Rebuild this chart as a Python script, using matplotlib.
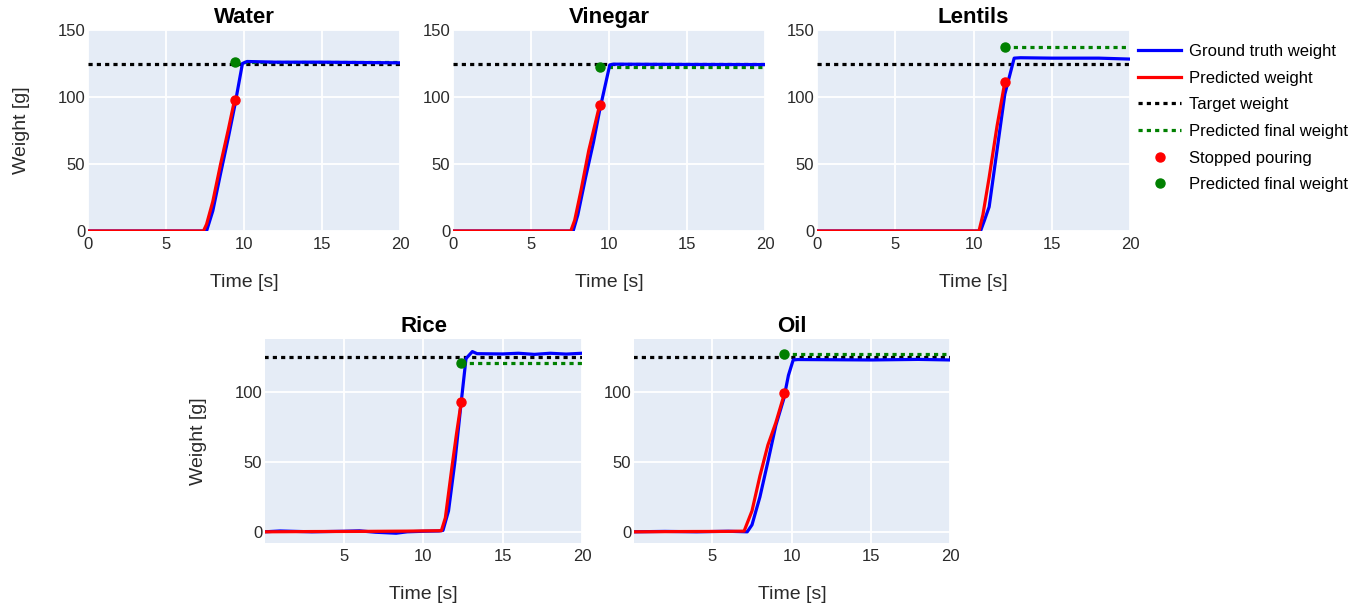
import matplotlib
matplotlib.use("Agg")
import matplotlib.pyplot as plt
from matplotlib.lines import Line2D

plt.rcParams['font.family'] = ['Liberation Sans', 'DejaVu Sans']

TARGET = 125

# ground truth weight (time [s], weight [g])
water_gt_t = [0, 7.6, 8.0, 8.5, 9.0, 9.4, 9.9, 10.2, 12, 15, 20]
water_gt_w = [0, 0, 15, 43, 70, 93, 125, 126.5, 126, 126, 125.5]
vinegar_gt_t = [0, 7.7, 8.0, 8.5, 9.0, 9.4, 10.05, 10.3, 15, 20]
vinegar_gt_w = [0, 0, 12, 40, 66, 90, 124, 124.5, 124.3, 124.2]
lentils_gt_t = [0, 10.45, 10.7, 11.0, 11.5, 12.0, 12.6, 13.0, 15, 18, 20]
lentils_gt_w = [0, 0, 8, 18, 60, 102, 129, 129.3, 129, 129, 128.3]
rice_gt_t = [0, 1, 3, 5, 6, 7, 8.3, 9, 10, 11.0, 11.25, 11.6, 12.0, 12.4, 12.7, 13.1, 13.4, 15, 16, 17, 18, 19, 20]
rice_gt_w = [0, 0.6, 0, 0.4, 0.7, -0.3, -1, 0, 0.4, 0.6, 1, 15, 50, 93, 124, 129, 127.5, 127.3, 127.8, 127, 127.8, 127.2, 127.8]
oil_gt_t = [0, 2, 4, 6, 7.2, 7.5, 8.0, 8.5, 9.0, 9.5, 9.8, 10.1, 10.4, 15, 18, 20]
oil_gt_w = [0, 0.3, 0, 0.4, 0, 5, 25, 50, 76, 95, 112, 123, 123.3, 123, 123.4, 123]

# predicted weight
water_pr_t = [0, 7.4, 7.6, 8.0, 8.5, 9.0, 9.4]
water_pr_w = [0, 0, 5, 22, 50, 76, 98]
vinegar_pr_t = [0, 7.55, 7.8, 8.2, 8.7, 9.4]
vinegar_pr_w = [0, 0, 8, 30, 60, 94]
lentils_pr_t = [0, 10.35, 10.6, 11.0, 11.5, 12.0]
lentils_pr_w = [0, 0, 12, 40, 78, 111]
rice_pr_t = [0, 3, 6, 9, 11.15, 11.4, 11.8, 12.1, 12.4]
rice_pr_w = [0, 0.2, 0.3, 0.5, 0.8, 10, 45, 70, 93]
oil_pr_t = [0, 3, 6, 7.0, 7.5, 8.0, 8.5, 9.0, 9.55]
oil_pr_w = [0, 0.2, 0.3, 0.5, 15, 40, 62, 78, 99]

# stop time, weight at stop, predicted final weight
names = ["Water", "Vinegar", "Lentils", "Rice", "Oil"]
stop_t = [9.4, 9.4, 12.0, 12.4, 9.55]
stop_w = [98, 94, 111, 93, 99]
final_w = [126, 122.5, 137, 121, 127]

gt_t = [water_gt_t, vinegar_gt_t, lentils_gt_t, rice_gt_t, oil_gt_t]
gt_w = [water_gt_w, vinegar_gt_w, lentils_gt_w, rice_gt_w, oil_gt_w]
pr_t = [water_pr_t, vinegar_pr_t, lentils_pr_t, rice_pr_t, oil_pr_t]
pr_w = [water_pr_w, vinegar_pr_w, lentils_pr_w, rice_pr_w, oil_pr_w]

W, H = 1359, 604
# axes boxes in pixels: left, top, right, bottom
boxes = [(88, 30, 400, 231), (453, 30, 765, 231), (817, 30, 1130, 231),
         (265, 339, 582, 543), (634, 339, 950, 543)]

fig = plt.figure(figsize=(W / 100, H / 100), dpi=100)

BG = '#E5ECF6'
LW = 2.3
DOT = (1.3, 1.3)
TXT = '#2a2a2a'

for i, name in enumerate(names):
    l, t, r, b = boxes[i]
    ax = fig.add_axes([l / W, 1 - b / H, (r - l) / W, (b - t) / H])
    ax.set_facecolor(BG)
    for s in ax.spines.values():
        s.set_visible(False)
    ax.grid(True, color='white', lw=1.3)
    ax.set_axisbelow(True)
    ax.tick_params(length=0, labelsize=12, colors=TXT)
    ax.tick_params(axis='y', pad=2)
    ax.tick_params(axis='x', pad=4)

    ax.plot([0, 20], [TARGET, TARGET], color='black', lw=LW, dashes=DOT)
    ax.plot([stop_t[i], 20], [final_w[i], final_w[i]], color='green', lw=LW, dashes=DOT)
    ax.plot(gt_t[i], gt_w[i], color='blue', lw=LW)
    ax.plot(pr_t[i], pr_w[i], color='red', lw=LW)
    ax.plot([stop_t[i]], [stop_w[i]], 'o', color='red', ms=6.5)
    ax.plot([stop_t[i]], [final_w[i]], 'o', color='green', ms=6.5)

    if i < 3:
        ax.set_xlim(0, 20)
        ax.set_ylim(0, 150)
        ax.set_xticks([0, 5, 10, 15, 20])
        ax.set_yticks([0, 50, 100, 150])
    else:
        ax.set_xlim(0.05, 20)
        ax.set_ylim(-8, 138)
        ax.set_xticks([5, 10, 15, 20])
        ax.set_yticks([0, 50, 100])

    ax.set_title(name, fontsize=16, fontweight='bold', pad=5)
    ax.set_xlabel("Time [s]", fontsize=14, labelpad=16, color=TXT)
    if i in (0, 3):
        ax.set_ylabel("Weight [g]", fontsize=14, labelpad=20, color=TXT)

handles = [
    Line2D([], [], color='blue', lw=LW),
    Line2D([], [], color='red', lw=LW),
    Line2D([], [], color='black', lw=LW, dashes=DOT),
    Line2D([], [], color='green', lw=LW, dashes=DOT),
    Line2D([], [], color='red', marker='o', ls='none', ms=6.5),
    Line2D([], [], color='green', marker='o', ls='none', ms=6.5),
]
labels = ["Ground truth weight", "Predicted weight", "Target weight",
          "Predicted final weight", "Stopped pouring", "Predicted final weight"]
fig.legend(handles, labels, loc='upper left', bbox_to_anchor=(1138 / W, 1 - 44 / H),
           frameon=False, fontsize=12, handlelength=2.6, handletextpad=0.45,
           labelspacing=0.7, borderaxespad=0, borderpad=0)

fig.savefig("out.png", dpi=100)
